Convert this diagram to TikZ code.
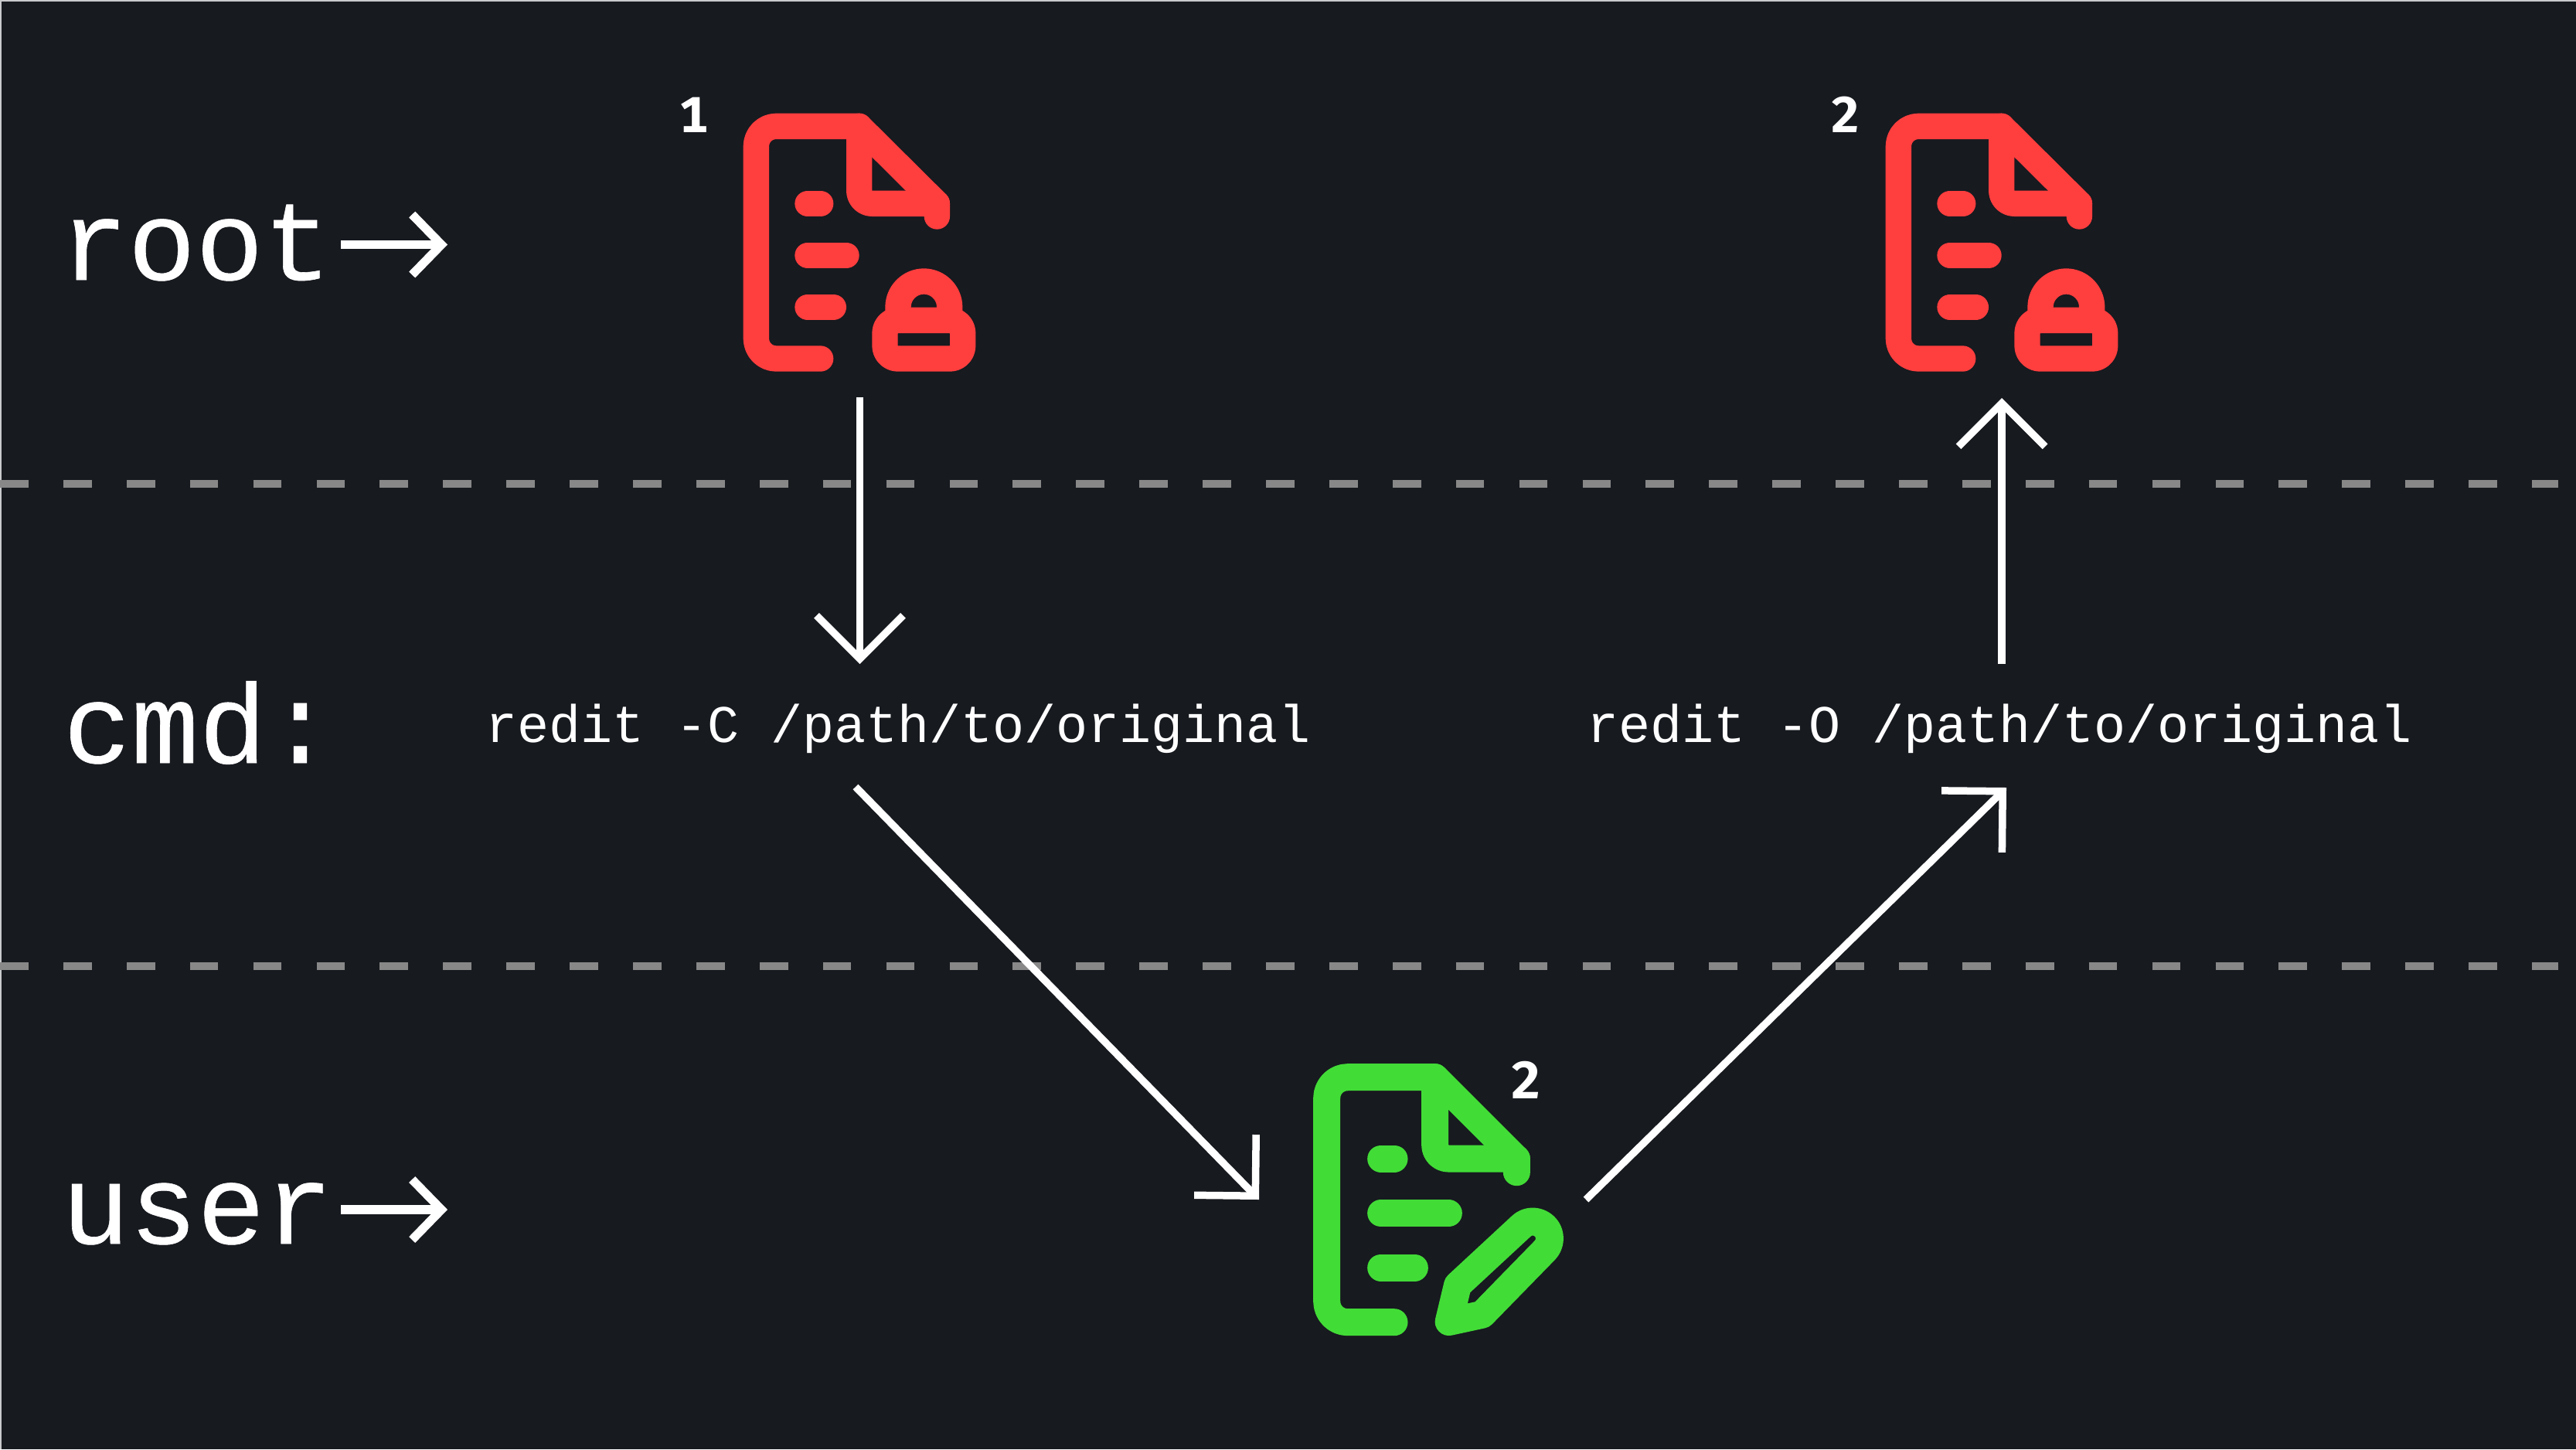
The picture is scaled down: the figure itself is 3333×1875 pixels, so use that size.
\documentclass[tikz,border=0pt]{standalone}
\usepackage{fontspec}
\usetikzlibrary{arrows.meta}
\newfontfamily\monofont[FakeBold=0.4]{Liberation Mono}
\newfontfamily\monolight{Liberation Mono}
\newfontfamily\firabold[Numbers=Monospaced]{Fira Sans Bold}
\definecolor{bgdark}{HTML}{171A1F}
\definecolor{redicon}{HTML}{FF3E3E}
\definecolor{greenicon}{HTML}{42DC37}
\definecolor{dashgray}{HTML}{888888}
\definecolor{edgegray}{HTML}{C8CACC}
\newcommand{\bigmono}{\monofont\fontsize{73}{73}\selectfont}
\newcommand{\smallmono}{\monolight\fontsize{34.2}{34.2}\selectfont}
\tikzset{
  x=0.5pt,y=-0.5pt,
  lane/.style={draw=dashgray,line width=4.75pt,dash pattern=on 18.35pt off 22.6pt},
  flow/.style={draw=white,line width=4.75pt,-{Straight Barb[length=28pt,width=56pt]},line join=miter},
  pointer/.style={draw=white,line width=5.6pt,-{Straight Barb[length=19pt,width=39pt]},line join=miter},
  label/.style={text=white,inner sep=0pt,outer sep=0pt,anchor=base west},
  rowlabel/.style={label,font=\bigmono},
  cmdlabel/.style={label,font=\smallmono},
  badge/.style={text=white,inner sep=0pt,outer sep=0pt,anchor=center,font=\firabold\fontsize{32.7}{33}\selectfont},
  stroke/.style={line cap=round,line join=round,line width=#1,fill=none},
  zoomgrid/.style={x=0.16667pt,y=-0.16667pt},
  lockdoc/.pic={
    \begin{scope}[stroke=16.67pt,draw=redicon]
      \draw (605,1092) [rounded corners=13pt] -- (355,1092) -- (355,190) [sharp corners] -- (755,190) -- (1057,490) -- (1057,540);
      \draw (755,190) [rounded corners=8.3pt] -- (755,490) [sharp corners] -- (1057,490);
      \draw (555,490) -- (605,490);
      \draw (555,691) -- (705,691);
      \draw (555,892) -- (655,892);
      \draw[rounded corners=8.3pt] (855,943) -- (1157,943) -- (1157,1092) -- (855,1092) -- cycle;
      \draw (906,943) -- (906,892) .. controls (906,837) and (951,792) .. (1006,792) .. controls (1061,792) and (1106,837) .. (1106,892) -- (1106,943);
    \end{scope}
  },
  editdoc/.pic={
    \begin{scope}[stroke=17.5pt,draw=greenicon]
      \draw (432,1082) [rounded corners=13.5pt] -- (170,1082) -- (170,131) [sharp corners] -- (590,131) -- (907,448) -- (907,500);
      \draw (590,131) [rounded corners=8.7pt] -- (590,447) [sharp corners] -- (907,447);
      \draw (380,447) -- (432,447);
      \draw (380,659) -- (643,659);
      \draw (380,870) -- (511,870);
      \draw[line width=18pt] (644,1080) -- (678,938) -- (924,710) .. controls (950,684) and (992,686) .. (1017,712) .. controls (1042,738) and (1040,780) .. (1015,804) -- (773,1052) -- cycle;
    \end{scope}
  }
}
\begin{document}
\begin{tikzpicture}
\useasboundingbox (0,0) rectangle (3333,1875);
\fill[bgdark] (0,0) rectangle (3333,1875);
\fill[edgegray] (0,0) rectangle (3333,2);
\fill[edgegray] (0,0) rectangle (1.5,1875);

\coordinate (laneAstart) at (0,626);
\coordinate (laneAend) at (3310,626);
\coordinate (laneBstart) at (0,1250);
\coordinate (laneBend) at (3310,1250);
\draw[lane] (laneAstart) -- (laneAend);
\draw[lane] (laneBstart) -- (laneBend);

\node[rowlabel] (rootlabel) at (78,362) {root};
\node[rowlabel] (cmdlabel) at (82,987) {cmd:};
\node[rowlabel] (userlabel) at (80,1609) {user};

\coordinate (rootptr) at (441,316.5);
\coordinate (rootptrend) at (579,316.5);
\coordinate (userptr) at (441,1565);
\coordinate (userptrend) at (579,1565);
\draw[pointer] (rootptr) -- (rootptrend);
\draw[pointer] (userptr) -- (userptrend);

\node[cmdlabel] (cmdC) at (628,960) {redit -C /path/to/original};
\node[cmdlabel] (cmdO) at (2053,960) {redit -O /path/to/original};

\begin{scope}[shift={(860,100)},zoomgrid]\pic {lockdoc};\end{scope}
\begin{scope}[shift={(2338,100)},zoomgrid]\pic {lockdoc};\end{scope}
\begin{scope}[shift={(1660,1350)},zoomgrid]\pic {editdoc};\end{scope}

\node[badge] (badgeA) at (897.5,148.5) {1};
\node[badge] (badgeB) at (2387.5,148.5) {2};
\node[badge,font=\firabold\fontsize{34}{34}\selectfont] (badgeC) at (1975,1397.5) {2};

\coordinate (fileAout) at (1112.5,514);
\coordinate (cmdCin) at (1112.5,859);
\coordinate (cmdCout) at (1107,1018);
\coordinate (editin) at (1629,1552);
\coordinate (editout) at (2052,1552);
\coordinate (cmdOin) at (2596,1019);
\coordinate (cmdOout) at (2590,859);
\coordinate (fileBin) at (2590,515);
\draw[flow] (fileAout) -- (cmdCin);
\draw[flow] (cmdCout) -- (editin);
\draw[flow] (editout) -- (cmdOin);
\draw[flow] (cmdOout) -- (fileBin);
\end{tikzpicture}
\end{document}
